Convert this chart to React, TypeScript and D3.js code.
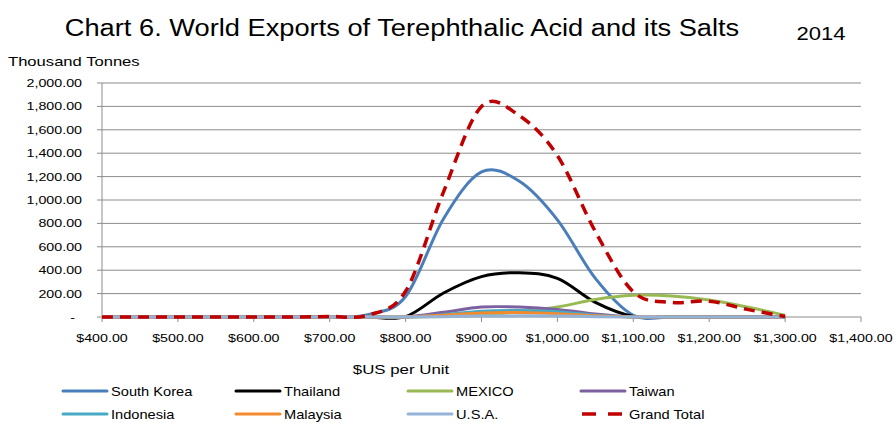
import React from 'react';
import * as d3 from 'd3';

// price points ($US per unit)
const prices = [400, 450, 500, 550, 600, 650, 700, 750, 800, 850, 900, 950, 1000, 1050, 1100, 1150, 1200, 1250, 1300];

// thousand tonnes, one value per price point
const southKorea = [0, 0, 0, 0, 0, 0, 0, 20, 175, 840, 1240, 1160, 830, 330, 15, 0, 0, 0, 0];
const thailand = [0, 0, 0, 0, 0, 0, 0, 0, 3, 205, 345, 378, 330, 125, 5, 0, 0, 0, 0];
const mexico = [0, 0, 0, 0, 0, 0, 0, 0, 0, 5, 15, 45, 85, 150, 185, 180, 145, 85, 15];
const taiwan = [0, 0, 0, 0, 0, 0, 0, 0, 0, 40, 85, 85, 65, 25, 0, 0, 0, 0, 0];
const indonesia = [0, 0, 0, 0, 0, 0, 0, 0, 0, 20, 50, 55, 45, 15, 0, 0, 0, 0, 0];
const malaysia = [0, 0, 0, 0, 0, 0, 0, 0, 0, 15, 35, 38, 28, 10, 0, 0, 0, 0, 0];
const usa = [0, 0, 0, 0, 0, 0, 0, 0, 0, 3, 8, 10, 8, 3, 0, 0, 0, 0, 0];
const grandTotal = [0, 0, 0, 0, 0, 0, 5, 15, 220, 1070, 1800, 1720, 1380, 730, 215, 125, 135, 65, 5];

const xTicks = [400, 500, 600, 700, 800, 900, 1000, 1100, 1200, 1300, 1400];
const yTicks = [0, 200, 400, 600, 800, 1000, 1200, 1400, 1600, 1800, 2000];

const series = [
  { name: 'South Korea', values: southKorea, color: '#4A7EBB' },
  { name: 'Thailand', values: thailand, color: '#000000' },
  { name: 'MEXICO', values: mexico, color: '#98B954' },
  { name: 'Taiwan', values: taiwan, color: '#7D60A0' },
  { name: 'Indonesia', values: indonesia, color: '#46AAC5' },
  { name: 'Malaysia', values: malaysia, color: '#F38A2E' },
  { name: 'U.S.A.', values: usa, color: '#95B3D7' },
  { name: 'Grand Total', values: grandTotal, color: '#C00000', dashed: true },
];

const FONT = '"Liberation Sans", Arial, sans-serif';
const GRID = '#8c8c8c';

// text drawn a little wider than the font, like the stretched original
const SText = ({ x, y, size, sx = 1.2, anchor = 'start', children }: any) => (
  <text
    transform={`translate(${x},${y}) scale(${sx},1)`}
    textAnchor={anchor}
    fontSize={size}
    fontFamily={FONT}
    fill="#000"
  >
    {children}
  </text>
);

export default function App() {
  const width = 896, height = 423;
  const left = 102, right = 861, top = 83, bottom = 317;

  const x = d3.scaleLinear().domain([400, 1400]).range([left, right]);
  const y = d3.scaleLinear().domain([0, 2000]).range([bottom, top]);

  const line = d3.line<number>()
    .x((_, i) => x(prices[i]))
    .y(d => y(d))
    .curve(d3.curveCardinal.tension(0));

  const fmt = d3.format(',.2f');

  const legendCols = [63, 236, 408, 581];
  const legendRows = [391, 414];

  return (
    <svg width={width} height={height} style={{ position: 'absolute', left: 0, top: 0, background: '#fff' }}>
      {/* title */}
      <SText x={402} y={36} size={23.5} sx={1.16} anchor="middle">
        Chart 6. World Exports of Terephthalic Acid and its Salts
      </SText>
      <SText x={821} y={40} size={19} sx={1.16} anchor="middle">2014</SText>
      <SText x={8} y={66} size={13.5} sx={1.23}>Thousand Tonnes</SText>

      {/* gridlines + y axis */}
      {yTicks.map(t => (
        <g key={t}>
          <line x1={left - 5} x2={right} y1={y(t)} y2={y(t)} stroke={GRID} strokeWidth={1} />
          <SText x={t === 0 ? 75 : 82} y={y(t) + 4} size={11.5} sx={1.24} anchor="end">
            {t === 0 ? '-' : fmt(t)}
          </SText>
        </g>
      ))}
      <line x1={left} x2={left} y1={top} y2={bottom} stroke={GRID} strokeWidth={1} />

      {/* x axis */}
      {xTicks.map(t => (
        <g key={t}>
          <line x1={x(t)} x2={x(t)} y1={bottom} y2={bottom + 5} stroke={GRID} strokeWidth={1} />
          <SText x={x(t)} y={342} size={11.5} sx={1.24} anchor="middle">{'$' + fmt(t)}</SText>
        </g>
      ))}
      <SText x={401} y={374} size={13.5} sx={1.25} anchor="middle">$US per Unit</SText>

      {/* series */}
      {series.map(s => (
        <path
          key={s.name}
          d={line(s.values) || ''}
          fill="none"
          stroke={s.color}
          strokeWidth={s.dashed ? 3.5 : 3}
          strokeDasharray={s.dashed ? '11,7' : undefined}
          strokeLinejoin="round"
        />
      ))}

      {/* legend */}
      {series.map((s, i) => {
        const lx = legendCols[i % 4];
        const ly = legendRows[Math.floor(i / 4)];
        return (
          <g key={s.name}>
            {s.dashed ? (
              <line x1={lx + 1} x2={lx + 43} y1={ly} y2={ly} stroke={s.color} strokeWidth={3.5} strokeDasharray="14,12" />
            ) : (
              <line x1={lx} x2={lx + 44} y1={ly} y2={ly} stroke={s.color} strokeWidth={3} strokeLinecap="round" />
            )}
            <SText x={lx + 48} y={ly + 4.5} size={12.2} sx={1.2}>{s.name}</SText>
          </g>
        );
      })}
    </svg>
  );
}
